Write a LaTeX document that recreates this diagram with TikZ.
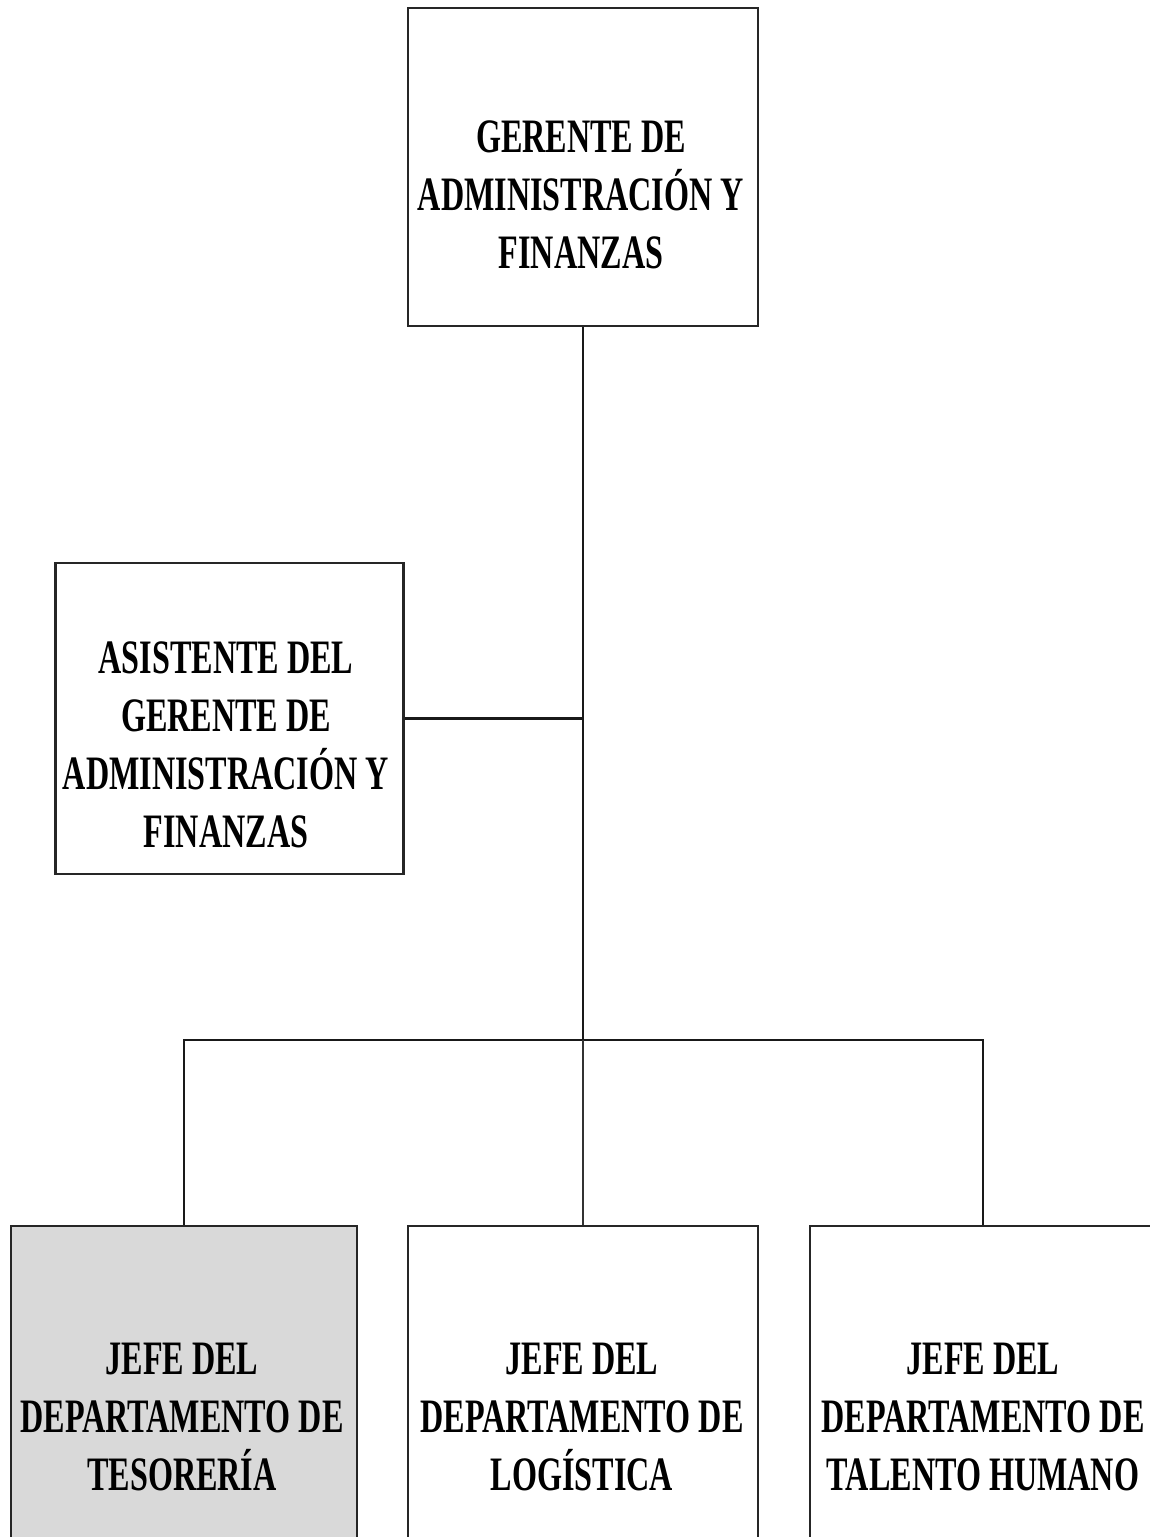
\documentclass[tikz,border=0pt]{standalone}
\usepackage{fontspec}
\setmainfont{Liberation Serif}[FakeStretch=0.67]
\begin{document}
\begin{tikzpicture}[x=1pt,y=-1pt,
  box/.style={draw=black!85, line width=2.4pt, inner sep=0pt,
    minimum width=#1},
  label/.style={font=\fontsize{48}{58}\selectfont\bfseries, align=center,
    inner sep=0pt},
  link/.style={draw=black!90, line width=2.4pt},
  thinlink/.style={draw=black!80, line width=1.4pt}]
  % page area
  \path[use as bounding box, clip] (0,0) rectangle (1150,1537);
  \fill[white] (0,0) rectangle (1150,1537);

  % boxes
  \node[box=350pt, minimum height=318pt] (ger)  at (583,167) {};
  \node[box=348pt, minimum height=311pt] (asis) at (229.5,718.5) {};
  \node[box=346pt, minimum height=374pt, fill=black!15] (teso) at (184,1413) {};
  \node[box=350pt, minimum height=374pt] (logi) at (583,1413) {};
  \node[box=346pt, minimum height=374pt] (tale) at (983,1413) {};

  % labels
  \node[label] (ger-t)  at (581,195)  {GERENTE DE\\ADMINISTRACIÓN Y\\FINANZAS};
  \node[label] (asis-t) at (226,745)  {ASISTENTE DEL\\GERENTE DE\\ADMINISTRACIÓN Y\\FINANZAS};
  \node[label] (teso-t) at (182,1417) {JEFE DEL\\DEPARTAMENTO DE\\TESORERÍA};
  \node[label] (logi-t) at (582,1417) {JEFE DEL\\DEPARTAMENTO DE\\LOGÍSTICA};
  \node[label] (tale-t) at (983,1417) {JEFE DEL\\DEPARTAMENTO DE\\TALENTO HUMANO};

  % connectors
  \coordinate (bus) at (583,1040);
  \draw[link] (ger.south) -- (bus);
  \draw[link] (asis.east) -- (asis.east -| ger.south);
  \draw[link] (teso.north) -- (teso.north |- bus) -- (tale.north |- bus) -- (tale.north);
  \draw[thinlink] (bus) -- (logi.north);
\end{tikzpicture}
\end{document}
